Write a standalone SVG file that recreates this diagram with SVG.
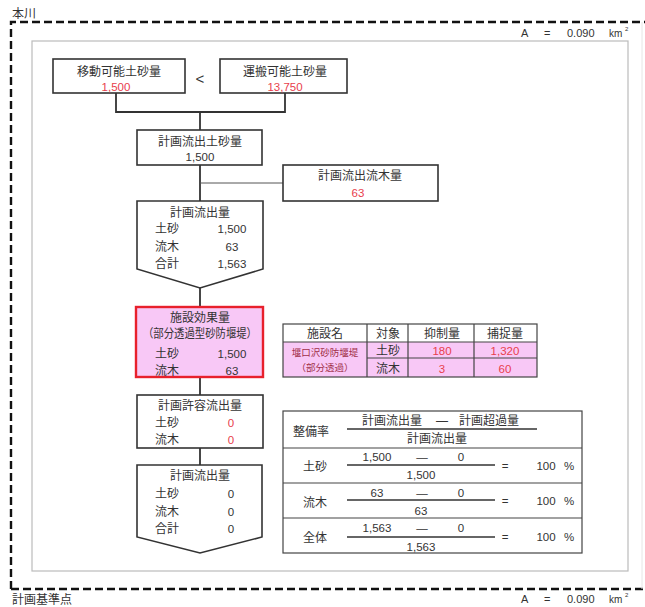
<svg xmlns="http://www.w3.org/2000/svg" width="645" height="607" viewBox="0 0 645 607">
<style>
text{font-family:"Liberation Sans","Noto Sans CJK JP",sans-serif;fill:#333;font-size:11.5px}
text.t{font-size:12px;text-anchor:middle}
text.j{font-size:12px}
text.m{text-anchor:middle}
text.r{fill:#e8404c}
text.s{font-size:11px}
text.k{font-size:10px}
text.sup{font-size:6px}
text.f{font-size:9.5px;text-anchor:middle;fill:#a03048}
.box{fill:#fff;stroke:#333;stroke-width:1.6}
.ln{stroke:#333;stroke-width:1.8;fill:none}
.fr{stroke:#333;stroke-width:1.4}
.cell{stroke:#444;stroke-width:1.2;fill:none}
</style>
<rect width="645" height="607" fill="#fff"/>
<g id="frame">
<text class="j" x="12" y="18">本川</text>
<path d="M11,589 V22 H645" fill="none" stroke="#111" stroke-width="2.4" stroke-dasharray="8,4"/>
<path d="M11,589 H645" fill="none" stroke="#111" stroke-width="2.4" stroke-dasharray="8,4"/>
<line x1="642" y1="22" x2="642" y2="589" stroke="#e6e6e6" stroke-width="1"/>
<rect x="32" y="41" width="596" height="530" fill="none" stroke="#bbb" stroke-width="1.2"/>
<text class="s" x="521" y="37">A</text><text class="s" x="544" y="37">=</text><text class="s" x="567" y="37">0.090</text><text class="k" x="609" y="37">km</text><text class="sup" x="625" y="31">2</text>
<text class="j" x="12" y="604">計画基準点</text>
<text class="s" x="521" y="603">A</text><text class="s" x="544" y="603">=</text><text class="s" x="567" y="603">0.090</text><text class="k" x="609" y="603">km</text><text class="sup" x="625" y="597">2</text>
</g>
<g id="connectors">
<path class="ln" d="M116,93 V112 H285 V93 M200,112 V130 M200,165 V201 M200,288 V307 M200,377 V395 M200,448 V465"/>
<line x1="200" y1="183" x2="283" y2="183" stroke="#555" stroke-width="1"/>
</g>
<g id="n-idou">
<rect class="box" x="53" y="59" width="132" height="34"/>
<text class="t" x="119" y="76">移動可能土砂量</text>
<text class="m r" x="116" y="91">1,500</text>
</g>
<text class="m" x="200" y="84" style="font-size:15px">&lt;</text>
<g id="n-unpan">
<rect class="box" x="220" y="59" width="127" height="34"/>
<text class="t" x="285" y="76">運搬可能土砂量</text>
<text class="m r" x="285" y="91">13,750</text>
</g>
<g id="n-keikaku-dosha">
<rect class="box" x="137" y="130" width="125" height="35"/>
<text class="t" x="200" y="146">計画流出土砂量</text>
<text class="m" x="200" y="161">1,500</text>
</g>
<g id="n-ryuboku">
<rect class="box" x="283" y="165" width="155" height="36"/>
<text class="t" x="360" y="180">計画流出流木量</text>
<text class="m r" x="358" y="197">63</text>
</g>
<g id="n-ryushutsu1">
<path class="box" d="M137,201 H263 V269 L200,288 L137,269 Z"/>
<text class="t" x="200" y="217">計画流出量</text>
<text class="j" x="155" y="233">土砂</text><text class="m" x="232" y="233">1,500</text>
<text class="j" x="155" y="251">流木</text><text class="m" x="232" y="251">63</text>
<text class="j" x="155" y="268">合計</text><text class="m" x="232" y="268">1,563</text>
</g>
<g id="n-shisetsu">
<rect x="136" y="307" width="127" height="70" fill="#f8c8f6" stroke="#e8202c" stroke-width="2.4"/>
<text class="t" x="200" y="322">施設効果量</text>
<text class="t" x="200" y="338" textLength="114" lengthAdjust="spacingAndGlyphs">（部分透過型砂防堰堤）</text>
<text class="j" x="155" y="358">土砂</text><text class="m" x="232" y="358">1,500</text>
<text class="j" x="155" y="375">流木</text><text class="m" x="232" y="375">63</text>
</g>
<g id="n-kyoyou">
<rect class="box" x="137" y="395" width="126" height="53"/>
<text class="t" x="200" y="410">計画許容流出量</text>
<text class="j" x="155" y="427">土砂</text><text class="m r" x="231" y="427">0</text>
<text class="j" x="155" y="444">流木</text><text class="m r" x="231" y="444">0</text>
</g>
<g id="n-ryushutsu2">
<path class="box" d="M137,465 H262 V537 L200,553 L137,537 Z"/>
<text class="t" x="200" y="480">計画流出量</text>
<text class="j" x="155" y="498">土砂</text><text class="m" x="231" y="498">0</text>
<text class="j" x="155" y="516">流木</text><text class="m" x="231" y="516">0</text>
<text class="j" x="155" y="533">合計</text><text class="m" x="231" y="533">0</text>
</g>
<g id="t-facility">
<rect x="283" y="342" width="254" height="35" fill="#f8c8f6"/>
<rect class="cell" x="283" y="324" width="254" height="53"/>
<path class="cell" d="M283,342 H537 M367,324 V377 M408,324 V377 M474,324 V377 M367,358 H537"/>
<text class="t" x="325" y="338">施設名</text>
<text class="t" x="388" y="338">対象</text>
<text class="t" x="442" y="338">抑制量</text>
<text class="t" x="505" y="338">捕捉量</text>
<text class="f" x="325" y="356">堰口沢砂防堰堤</text>
<text class="f" x="325" y="371">（部分透過）</text>
<text class="t" x="388" y="355">土砂</text>
<text class="t" x="388" y="373">流木</text>
<text class="m r" x="442" y="355">180</text>
<text class="m r" x="505" y="355">1,320</text>
<text class="m r" x="442" y="373">3</text>
<text class="m r" x="505" y="373">60</text>
</g>
<g id="t-rate">
<rect class="cell" x="283" y="411" width="299" height="142" stroke-width="1.4"/>
<path class="cell" d="M283,448 H582 M283,483 H582 M283,518 H582"/>
<text class="t" x="311" y="436">整備率</text>
<text class="t" x="392" y="425">計画流出量</text><text class="t" x="442" y="425">―</text><text class="t" x="489" y="425">計画超過量</text>
<line class="fr" x1="347" y1="429" x2="537" y2="429"/>
<text class="t" x="437" y="443">計画流出量</text>
<text class="t" x="315" y="471">土砂</text>
<text class="m" x="377" y="461">1,500</text><text class="m" x="422" y="461">―</text><text class="m" x="461" y="461">0</text>
<line class="fr" x1="347" y1="465" x2="495" y2="465"/>
<text class="m" x="421" y="479">1,500</text>
<text class="m" x="505" y="470">=</text><text class="m" x="546" y="470">100</text><text class="m" x="569" y="470">%</text>
<text class="t" x="315" y="507">流木</text>
<text class="m" x="377" y="497">63</text><text class="m" x="422" y="497">―</text><text class="m" x="461" y="497">0</text>
<line class="fr" x1="347" y1="500" x2="495" y2="500"/>
<text class="m" x="421" y="515">63</text>
<text class="m" x="505" y="505">=</text><text class="m" x="546" y="505">100</text><text class="m" x="569" y="505">%</text>
<text class="t" x="315" y="542">全体</text>
<text class="m" x="377" y="532">1,563</text><text class="m" x="422" y="532">―</text><text class="m" x="461" y="532">0</text>
<line class="fr" x1="347" y1="537" x2="495" y2="537"/>
<text class="m" x="421" y="551">1,563</text>
<text class="m" x="505" y="541">=</text><text class="m" x="546" y="541">100</text><text class="m" x="569" y="541">%</text>
</g>
</svg>
